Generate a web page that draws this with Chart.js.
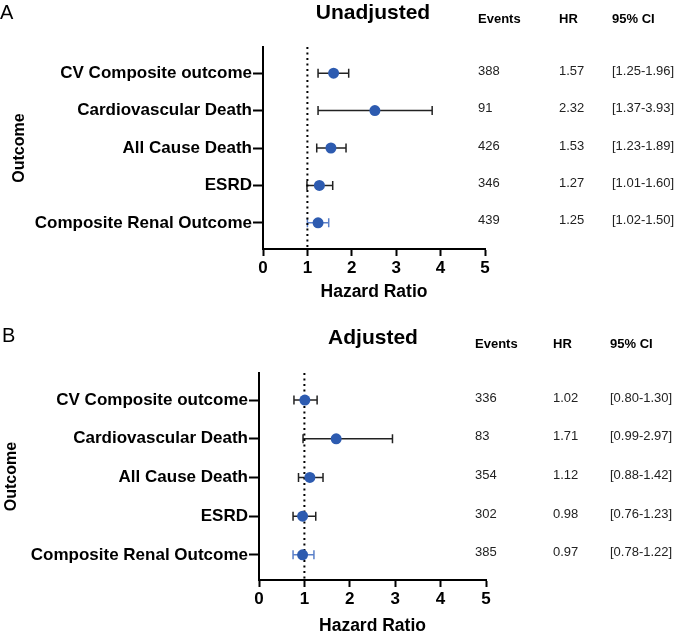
<!DOCTYPE html>
<html>
<head>
<meta charset="utf-8">
<script src="https://cdn.jsdelivr.net/npm/chart.js@4.4.1/dist/chart.umd.min.js"></script>
<style>
    body { margin: 0; background: #fff; }
    canvas { display: block; }
</style>
</head>
<body>
<canvas id="forestA" width="675" height="316"></canvas>
<canvas id="forestB" width="675" height="317"></canvas>
<script>
const outcomes = ['CV Composite outcome', 'Cardiovascular Death', 'All Cause Death', 'ESRD', 'Composite Renal Outcome'];

// panel A, unadjusted (plotted positions)
const unadjHR = [1.59, 2.52, 1.53, 1.27, 1.24];
const unadjLow = [1.24, 1.24, 1.21, 0.99, 1.00];
const unadjHigh = [1.93, 3.81, 1.87, 1.57, 1.48];
const unadjEvents = ['388', '91', '426', '346', '439'];
const unadjHRText = ['1.57', '2.32', '1.53', '1.27', '1.25'];
const unadjCIText = ['[1.25-1.96]', '[1.37-3.93]', '[1.23-1.89]', '[1.01-1.60]', '[1.02-1.50]'];

// panel B, adjusted
const adjHR = [1.01, 1.70, 1.12, 0.96, 0.96];
const adjLow = [0.77, 0.97, 0.87, 0.75, 0.75];
const adjHigh = [1.28, 2.94, 1.41, 1.25, 1.21];
const adjEvents = ['336', '83', '354', '302', '385'];
const adjHRText = ['1.02', '1.71', '1.12', '0.98', '0.97'];
const adjCIText = ['[0.80-1.30]', '[0.99-2.97]', '[0.88-1.42]', '[0.76-1.23]', '[0.78-1.22]'];

const xTicks = [0, 1, 2, 3, 4, 5];
const refLine = 1;

const FONT = '"Liberation Sans", Arial, sans-serif';
const DOT = '#2d5bb0';
const LAST_BAR = '#5b80c9';

function initForest(id, cfg) {
    const ctx = document.getElementById(id).getContext('2d');

    const errorBars = {
        id: 'errorBars',
        beforeDatasetsDraw(chart) {
            const xs = chart.scales.x, ys = chart.scales.y;
            const c = chart.ctx;
            c.save();
            c.lineWidth = 1.5;
            cfg.low.forEach(function (lo, i) {
                const y = ys.getPixelForValue(i);
                const x1 = xs.getPixelForValue(lo);
                const x2 = xs.getPixelForValue(cfg.high[i]);
                c.strokeStyle = i === cfg.low.length - 1 ? LAST_BAR : '#222';
                c.beginPath();
                c.moveTo(x1, y); c.lineTo(x2, y);
                c.moveTo(x1, y - 4.5); c.lineTo(x1, y + 4.5);
                c.moveTo(x2, y - 4.5); c.lineTo(x2, y + 4.5);
                c.stroke();
            });
            c.restore();
        }
    };

    const sideText = {
        id: 'sideText',
        afterDraw(chart) {
            const ys = chart.scales.y;
            const c = chart.ctx;
            c.save();
            c.fillStyle = '#000';
            c.textBaseline = 'alphabetic';
            c.textAlign = 'left';
            c.font = '20px ' + FONT;
            c.fillText(cfg.letter, cfg.letterX, cfg.letterY);

            c.textAlign = 'center';
            c.font = 'bold 21px ' + FONT;
            c.fillText(cfg.title, 373, cfg.titleY);

            c.textAlign = 'left';
            c.font = 'bold 13px ' + FONT;
            c.fillText('Events', cfg.cols[0], cfg.headY);
            c.fillText('HR', cfg.cols[1], cfg.headY);
            c.fillText('95% CI', cfg.cols[2], cfg.headY);

            c.font = '13px ' + FONT;
            c.fillStyle = '#222';
            c.textBaseline = 'middle';
            cfg.events.forEach(function (ev, i) {
                const y = ys.getPixelForValue(i) - 2;
                c.fillText(ev, cfg.cols[0], y);
                c.fillText(cfg.hrText[i], cfg.cols[1], y);
                c.fillText(cfg.ciText[i], cfg.cols[2], y);
            });
            c.restore();
        }
    };

    return new Chart(ctx, {
        data: {
            datasets: [{
                type: 'scatter',
                data: cfg.hr.map((v, i) => ({x: v, y: i})),
                backgroundColor: DOT,
                borderWidth: 0,
                pointRadius: 5.5,
                order: 1,
            }, {
                type: 'line',
                data: [{x: refLine, y: cfg.yMin}, {x: refLine, y: cfg.yMax}],
                borderColor: '#000',
                borderWidth: 2,
                borderDash: [2, 3.5],
                pointRadius: 0,
                order: 2,
            }],
        },
        options: {
            responsive: false,
            animation: false,
            devicePixelRatio: 1,
            layout: {
                padding: {left: 0, top: cfg.top, right: cfg.right, bottom: 0}
            },
            plugins: {
                legend: {display: false},
                tooltip: {enabled: false},
            },
            scales: {
                x: {
                    type: 'linear',
                    min: 0,
                    max: 5,
                    afterBuildTicks: (s) => { s.ticks = xTicks.map(v => ({value: v})); },
                    afterFit: (s) => { s.height = cfg.xHeight; },
                    grid: {
                        drawOnChartArea: false,
                        tickLength: 7,
                        tickWidth: 2,
                        tickColor: '#000',
                    },
                    border: {color: '#000', width: 2},
                    ticks: {
                        color: '#000',
                        padding: 2,
                        font: {family: FONT, size: 17, weight: 'bold'},
                    },
                    title: {
                        display: true,
                        text: 'Hazard Ratio',
                        color: '#000',
                        font: {family: FONT, size: 17.5, weight: 'bold'},
                        padding: {top: 0, bottom: cfg.xTitlePad},
                    },
                },
                y: {
                    type: 'linear',
                    reverse: true,
                    min: cfg.yMin,
                    max: cfg.yMax,
                    afterBuildTicks: (s) => { s.ticks = outcomes.map((_, i) => ({value: i})); },
                    afterFit: (s) => { s.width = cfg.yWidth; },
                    grid: {
                        drawOnChartArea: false,
                        tickLength: 10,
                        tickWidth: 2,
                        tickColor: '#000',
                    },
                    border: {color: '#000', width: 2},
                    ticks: {
                        color: '#000',
                        padding: 1,
                        font: {family: FONT, size: 17, weight: 'bold'},
                        callback: (v) => outcomes[v],
                    },
                    title: {
                        display: true,
                        text: 'Outcome',
                        color: '#000',
                        font: {family: FONT, size: 16, weight: 'bold'},
                        padding: {top: cfg.yTitlePad, bottom: 0},
                    },
                },
            },
        },
        plugins: [errorBars, sideText],
    });
}

initForest('forestA', {
    hr: unadjHR, low: unadjLow, high: unadjHigh,
    events: unadjEvents, hrText: unadjHRText, ciText: unadjCIText,
    title: 'Unadjusted', titleY: 19, letter: 'A', letterX: 0, letterY: 19,
    headY: 23, cols: [478, 559, 612],
    top: 47, right: 190, yWidth: 263, xHeight: 67, xTitlePad: 13, yTitlePad: 10,
    yMin: -0.7, yMax: 4.7,
});

initForest('forestB', {
    hr: adjHR, low: adjLow, high: adjHigh,
    events: adjEvents, hrText: adjHRText, ciText: adjCIText,
    title: 'Adjusted', titleY: 28, letter: 'B', letterX: 2, letterY: 26,
    headY: 32, cols: [475, 553, 610],
    top: 57, right: 189, yWidth: 259, xHeight: 53, xTitlePad: -3.5, yTitlePad: 2,
    yMin: -0.7, yMax: 4.65,
});
</script>
</body>
</html>
